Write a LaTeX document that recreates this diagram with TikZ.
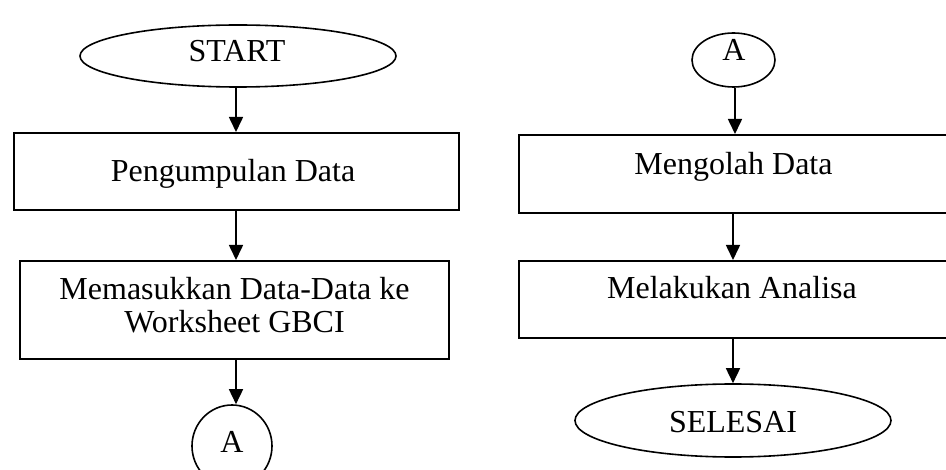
\documentclass[tikz,border=0pt]{standalone}
\usepackage{fontspec}
\setmainfont{Liberation Serif}
\usetikzlibrary{shapes.geometric,arrows.meta}
\begin{document}
\begin{tikzpicture}[x=1pt,y=-1pt,
  line width=1.8pt,
  term/.style={draw,ellipse,inner sep=0pt,line width=1.6pt},
  conn/.style={draw,ellipse,inner sep=0pt,line width=1.6pt},
  procbox/.style={draw,rectangle,inner sep=0pt,line width=2pt},
  lbl/.style={anchor=base,inner sep=0pt,font=\fontsize{32}{33}\selectfont},
  arr/.style={-{Triangle[length=15pt,width=14pt]},line width=1.6pt}]
\clip (0,0) rectangle (946,470);
\fill[white] (0,0) rectangle (946,470);
% left column
\node[term,minimum width=316pt,minimum height=62pt] (start) at (238,56) {};
\node[lbl] (tstart) at (237,62) {START};
\node[procbox,minimum width=445pt,minimum height=77pt] (box1) at (236.5,171.5) {};
\node[lbl] (t1) at (233,182) {Pengumpulan Data};
\node[procbox,minimum width=429pt,minimum height=98pt] (box2) at (234.5,310) {};
\node[lbl] (t2a) at (234.5,300) {Memasukkan Data-Data ke};
\node[lbl] (t2b) at (234.5,333) {Worksheet GBCI};
\node[conn,minimum width=80pt,minimum height=82pt] (aleft) at (232,446) {};
\node[lbl] (ta1) at (232,453) {A};
% right column
\node[conn,minimum width=83pt,minimum height=54pt] (aright) at (733.5,60) {};
\node[lbl] (ta2) at (734,61) {A};
\node[procbox,minimum width=432pt,minimum height=78pt] (box3) at (735,174) {};
\node[lbl] (t3) at (733.5,175) {Mengolah Data};
\node[procbox,minimum width=432pt,minimum height=77pt] (box4) at (735,299.5) {};
\node[lbl] (t4) at (732,299) {Melakukan Analisa};
\node[term,minimum width=316pt,minimum height=73pt] (end) at (733,420.5) {};
\node[lbl] (tend) at (733,432) {SELESAI};
% connectors
\draw[arr] (start.south -| 236,0) -- (box1.north -| 236,0);
\draw[arr] (box1.south -| 236,0) -- (box2.north -| 236,0);
\draw[arr] (box2.south -| 236,0) -- (aleft.north -| 236,0);
\draw[arr] (aright.south -| 735,0) -- (box3.north -| 735,0);
\draw[arr] (box3.south -| 733,0) -- (box4.north -| 733,0);
\draw[arr] (box4.south -| 733,0) -- (end.north -| 733,0);
\end{tikzpicture}
\end{document}
